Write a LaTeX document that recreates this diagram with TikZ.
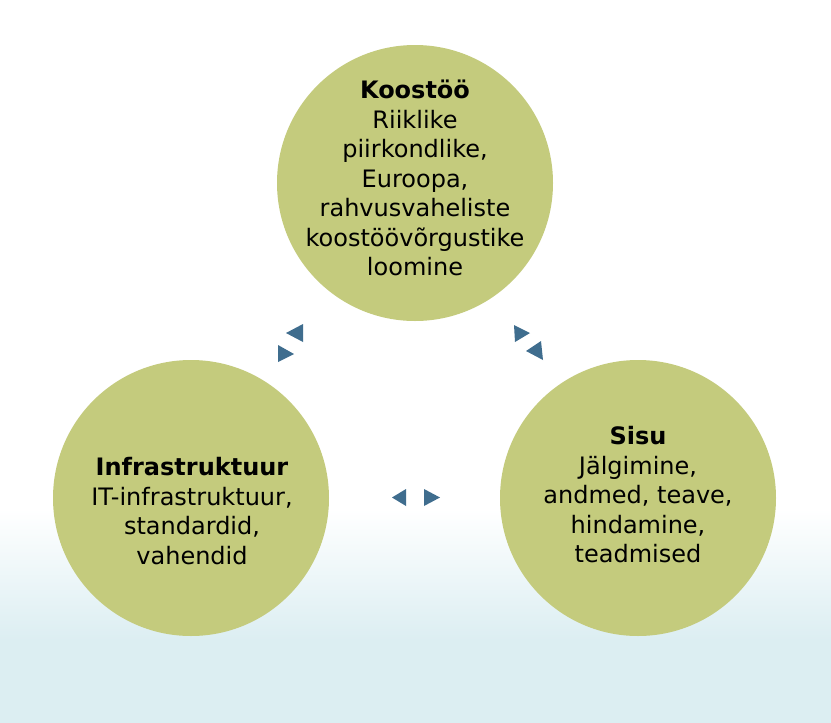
\documentclass[tikz,border=0pt]{standalone}
\usepackage{fontspec}
\setmainfont{DejaVu Sans}
\definecolor{circfill}{HTML}{C4CB7D}
\definecolor{arrowblue}{HTML}{3F6D8E}
\definecolor{bgblue}{HTML}{DCEEF2}
\begin{document}
\begin{tikzpicture}[x=1pt,y=-1pt,
  topic/.style={circle, fill=circfill, minimum size=276pt, inner sep=0pt},
  label/.style={align=center, font=\fontsize{24}{29.5}\selectfont, text=black},
  tip/.style={fill=arrowblue}]
\useasboundingbox (0,0) rectangle (831,723);
\fill[white] (0,0) rectangle (831,510);
\shade[top color=white, bottom color=bgblue] (0,509) rectangle (831,640);
\fill[bgblue] (0,639) rectangle (831,723);
\node[topic] (top) at (415,183) {};
\node[topic] (left) at (191,498) {};
\node[topic] (right) at (638,498) {};
\node[label] (toptext) at (415,178) {\textbf{Koostöö}\\Riiklike\\piirkondlike,\\Euroopa,\\rahvusvaheliste\\koostöövõrgustike\\loomine};
\node[label] (lefttext) at (192,511) {\textbf{Infrastruktuur}\\IT-infrastruktuur,\\standardid,\\vahendid};
\node[label] (righttext) at (638,495) {\textbf{Sisu}\\Jälgimine,\\andmed, teave,\\hindamine,\\teadmised};
% arrow tips between circles
\fill[tip] (303,324) -- (303,342) -- (286,333) -- cycle;
\fill[tip] (278,345) -- (278,362) -- (294,354) -- cycle;
\fill[tip] (514,325) -- (515,342) -- (530,333) -- cycle;
\fill[tip] (541,341) -- (543,360) -- (526,351) -- cycle;
\fill[tip] (406,489) -- (406,506) -- (392,497.5) -- cycle;
\fill[tip] (424,489) -- (424,506) -- (440,497.5) -- cycle;
\end{tikzpicture}
\end{document}
